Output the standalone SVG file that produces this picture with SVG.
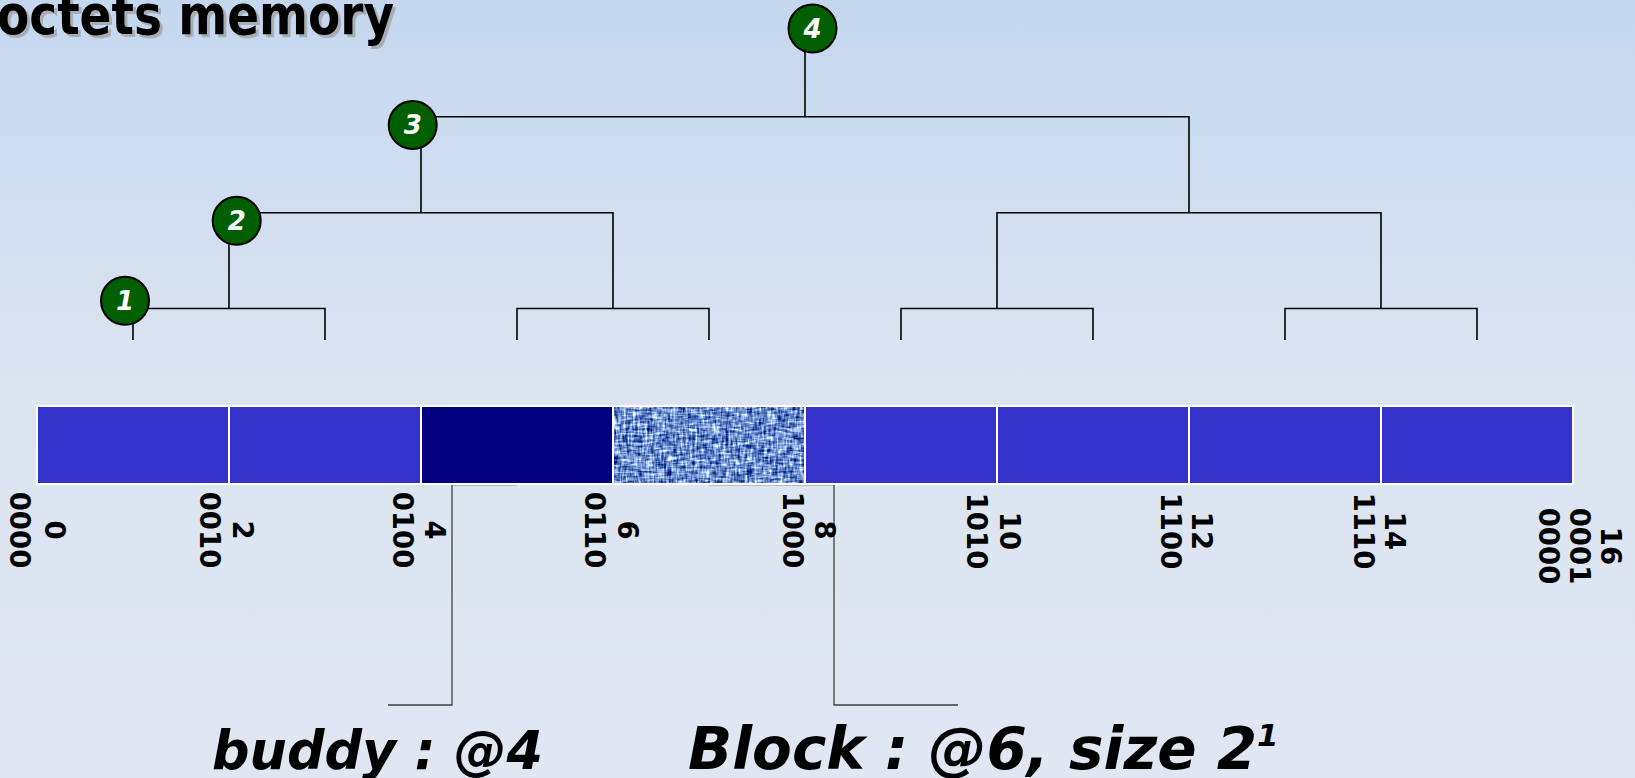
<svg xmlns="http://www.w3.org/2000/svg" width="1635" height="778" viewBox="0 0 1635 778">
  <defs>
    <linearGradient id="bg" x1="0" y1="0" x2="0" y2="1">
      <stop offset="0" stop-color="#c4d7ef"/>
      <stop offset="0.5" stop-color="#dce4f1"/>
      <stop offset="1" stop-color="#e0e7f2"/>
    </linearGradient>
    <!-- woven fabric look for the allocated block -->
    <filter id="fabric" filterUnits="userSpaceOnUse" x="613" y="406" width="192" height="78" color-interpolation-filters="sRGB">
      <feTurbulence type="fractalNoise" baseFrequency="0.42 0.09" numOctaves="2" seed="4" result="h"/>
      <feTurbulence type="fractalNoise" baseFrequency="0.09 0.42" numOctaves="2" seed="9" result="v"/>
      <feComposite in="h" in2="v" operator="arithmetic" k1="0" k2="0.5" k3="0.5" k4="0" result="n"/>
      <feColorMatrix in="n" type="matrix" values="2.4 0 0 0 -0.78  2.2 0 0 0 -0.55  1.5 0 0 0 0.05  0 0 0 0 1" result="c"/>
      <feComposite in="c" in2="SourceGraphic" operator="in"/>
    </filter>
    <style>
      .seg { stroke: #ffffff; stroke-width: 2; }
      .free { fill: #3333cc; }
      .buddy { fill: #000080; }
      .tree { fill: none; stroke: #000000; stroke-width: 1.6; }
      .lead { fill: none; stroke: #404040; stroke-width: 1.3; }
      .node circle { fill: #005f00; stroke: #000000; stroke-width: 2; }
      .node text { fill: #ffffff; font-family: "DejaVu Sans", Verdana, sans-serif; font-weight: bold; font-style: oblique; font-size: 26px; text-anchor: middle; }
      .addr { fill: #000000; font-family: "DejaVu Sans", Verdana, sans-serif; font-weight: bold; font-size: 27.5px; text-anchor: middle; }
      .caption { fill: #000000; font-family: "DejaVu Sans", Verdana, sans-serif; font-weight: bold; font-style: oblique; }
      .title { font-family: "DejaVu Sans", Verdana, sans-serif; font-weight: bold; font-size: 47px; }
    </style>
  </defs>

  <rect x="0" y="0" width="1635" height="778" fill="url(#bg)"/>

  <!-- heading -->
  <g id="title">
    <text class="title" transform="translate(0 37) scale(1 1.18)" fill="#a9aeb6">octets memory</text>
    <text class="title" transform="translate(-3 34) scale(1 1.18)" fill="#000000">octets memory</text>
  </g>

  <!-- tree and leader lines -->
  <g id="connectors">
    <path class="tree" d="M133 340 V308.5 H325 V340 M517 340 V308.5 H709 V340 M901 340 V308.5 H1093 V340 M1285 340 V308.5 H1477 V340"/>
    <path class="tree" d="M229 308.5 V212.7 H613 V308.5 M997 308.5 V212.7 H1381 V308.5"/>
    <path class="tree" d="M421 212.7 V116.8 H1189 V212.7"/>
    <path class="tree" d="M805 116.8 V30"/>
    <path class="lead" d="M517 484.5 H452 V705 H388"/>
    <path class="lead" d="M709 484.5 H834 V705 H958"/>
  </g>

  <!-- memory blocks -->
  <g id="memory">
    <rect id="seg0" class="seg free" x="37" y="406" width="192" height="78"/>
    <rect id="seg1" class="seg free" x="229" y="406" width="192" height="78"/>
    <rect id="seg2" class="seg buddy" x="421" y="406" width="192" height="78"/>
    <g id="seg3">
      <rect x="613" y="406" width="192" height="78" fill="#6484c0"/>
      <rect x="613" y="406" width="192" height="78" fill="#6484c0" filter="url(#fabric)"/>
      <rect class="seg" x="613" y="406" width="192" height="78" fill="none"/>
    </g>
    <rect id="seg4" class="seg free" x="805" y="406" width="192" height="78"/>
    <rect id="seg5" class="seg free" x="997" y="406" width="192" height="78"/>
    <rect id="seg6" class="seg free" x="1189" y="406" width="192" height="78"/>
    <rect id="seg7" class="seg free" x="1381" y="406" width="192" height="78"/>
  </g>

  <!-- addresses, read top to bottom -->
  <g id="addresses">
    <g id="a0">
      <text class="addr" transform="translate(55 530) rotate(90)" dy="0.36em">0</text>
      <text class="addr" transform="translate(20 530) rotate(90)" dy="0.36em">0000</text>
    </g>
    <g id="a2">
      <text class="addr" transform="translate(243 530) rotate(90)" dy="0.36em">2</text>
      <text class="addr" transform="translate(210 530) rotate(90)" dy="0.36em">0010</text>
    </g>
    <g id="a4">
      <text class="addr" transform="translate(435 530) rotate(90)" dy="0.36em">4</text>
      <text class="addr" transform="translate(403 530) rotate(90)" dy="0.36em">0100</text>
    </g>
    <g id="a6">
      <text class="addr" transform="translate(628 530) rotate(90)" dy="0.36em">6</text>
      <text class="addr" transform="translate(595 530) rotate(90)" dy="0.36em">0110</text>
    </g>
    <g id="a8">
      <text class="addr" transform="translate(825 530) rotate(90)" dy="0.36em">8</text>
      <text class="addr" transform="translate(793 530) rotate(90)" dy="0.36em">1000</text>
    </g>
    <g id="a10">
      <text class="addr" transform="translate(1010 531) rotate(90)" dy="0.36em">10</text>
      <text class="addr" transform="translate(977 531) rotate(90)" dy="0.36em">1010</text>
    </g>
    <g id="a12">
      <text class="addr" transform="translate(1202 531) rotate(90)" dy="0.36em">12</text>
      <text class="addr" transform="translate(1171 531) rotate(90)" dy="0.36em">1100</text>
    </g>
    <g id="a14">
      <text class="addr" transform="translate(1395 531) rotate(90)" dy="0.36em">14</text>
      <text class="addr" transform="translate(1364 531) rotate(90)" dy="0.36em">1110</text>
    </g>
    <g id="a16">
      <text class="addr" transform="translate(1611 546) rotate(90)" dy="0.36em">16</text>
      <text class="addr" transform="translate(1580 546) rotate(90)" dy="0.36em">0001</text>
      <text class="addr" transform="translate(1549 546) rotate(90)" dy="0.36em">0000</text>
    </g>
  </g>

  <!-- levels -->
  <g id="n1" class="node">
    <circle cx="125" cy="300.7" r="24"/>
    <text x="125" y="310">1</text>
  </g>
  <g id="n2" class="node">
    <circle cx="236.7" cy="220.7" r="24"/>
    <text x="236.7" y="230">2</text>
  </g>
  <g id="n3" class="node">
    <circle cx="412.7" cy="125" r="24"/>
    <text x="412.7" y="134.3">3</text>
  </g>
  <g id="n4" class="node">
    <circle cx="812.5" cy="28.5" r="24"/>
    <text x="812.5" y="37.8">4</text>
  </g>

  <!-- captions -->
  <g id="captions">
    <text class="caption" x="212" y="769" font-size="52.5">buddy : @4</text>
    <text class="caption" x="688" y="769" font-size="58">Block : @6, size 2<tspan font-size="31" dy="-23">1</tspan></text>
  </g>
</svg>
